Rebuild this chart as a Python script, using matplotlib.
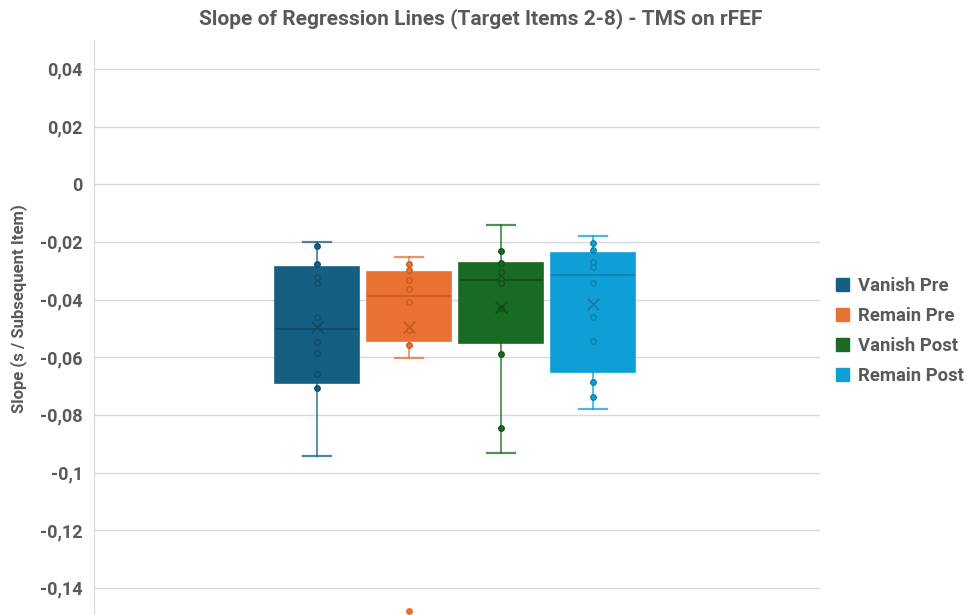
import numpy as np
import matplotlib.pyplot as plt
from matplotlib.patches import Patch

plt.rcParams['font.family'] = ['Roboto', 'DejaVu Sans']

# series
names = ['Vanish Pre', 'Remain Pre', 'Vanish Post', 'Remain Post']
colors = ['#156082', '#E97132', '#196B24', '#0F9ED5']
darks = ['#0f4a66', '#c55a22', '#114d19', '#0b7eab']

# box statistics per series
q1 = [-0.0691, -0.0544, -0.0552, -0.0652]
med = [-0.0503, -0.0388, -0.0334, -0.0316]
q3 = [-0.0287, -0.0305, -0.0273, -0.0237]
mean = [-0.0496, -0.0496, -0.0427, -0.0416]
whis_lo = [-0.0943, -0.0602, -0.0932, -0.0779]
whis_hi = [-0.0200, -0.0251, -0.0142, -0.0178]

# individual data points
pts_vanish_pre = [-0.0214, -0.0276, -0.0322, -0.0341, -0.0459, -0.0547,
                  -0.0586, -0.0658, -0.0707]
pts_remain_pre = [-0.0276, -0.0296, -0.0332, -0.0362, -0.0410, -0.0507,
                  -0.0557]
pts_vanish_post = [-0.0231, -0.0273, -0.0305, -0.0328, -0.0342, -0.0431,
                   -0.0589, -0.0845]
pts_remain_post = [-0.0203, -0.0228, -0.0271, -0.0288, -0.0344, -0.0459,
                   -0.0544, -0.0685, -0.0739]
points = [pts_vanish_pre, pts_remain_pre, pts_vanish_post, pts_remain_post]

# outliers
fliers = [[], [-0.1480], [], []]

yticks = [0.04, 0.02, 0, -0.02, -0.04, -0.06, -0.08, -0.1, -0.12, -0.14]

grey = '#595959'

fig = plt.figure(figsize=(9.67, 6.15), dpi=100)
ax = fig.add_axes([94 / 967, 0, 726 / 967, 575 / 615])

pos = np.arange(1, len(names) + 1)
stats = []
for i in range(len(names)):
    stats.append(dict(med=med[i], q1=q1[i], q3=q3[i], whislo=whis_lo[i],
                      whishi=whis_hi[i], mean=mean[i], fliers=[]))

for i, s in enumerate(stats):
    ax.bxp([s], positions=[pos[i]], widths=0.907, patch_artist=True,
           showmeans=False, showfliers=False,
           boxprops=dict(facecolor=colors[i], edgecolor=colors[i], linewidth=1.2),
           medianprops=dict(color=darks[i], linewidth=1.2),
           whiskerprops=dict(color=colors[i], linewidth=1.3, alpha=0.75),
           capprops=dict(color=colors[i], linewidth=1.6, alpha=0.75),
           capwidths=0.3, zorder=2)
    ax.scatter([pos[i]] * len(points[i]), points[i], s=16,
               facecolor=colors[i], edgecolor=darks[i], linewidth=0.9, zorder=3)
    if fliers[i]:
        ax.scatter([pos[i]] * len(fliers[i]), fliers[i], s=16,
                   color=colors[i], zorder=3)
    ax.scatter([pos[i]], [mean[i]], marker='x', s=70, color=darks[i],
               linewidth=1.2, zorder=4)

ax.set_xlim(-1.424, 6.467)
ax.set_ylim(-0.1494, 0.05)
ax.set_xticks([])
ax.set_yticks(yticks)
ax.set_yticklabels([('%g' % v).replace('.', ',') for v in yticks])
ax.tick_params(axis='y', length=0, pad=8, labelsize=13, labelcolor=grey)
for lab in ax.get_yticklabels():
    lab.set_fontweight('bold')
ax.grid(axis='y', color='#d9d9d9', linewidth=1)
ax.set_axisbelow(True)
for side in ['top', 'right', 'bottom']:
    ax.spines[side].set_visible(False)
ax.spines['left'].set_color('#d9d9d9')

ax.set_ylabel('Slope (s / Subsequent Item)', fontsize=12, fontweight='bold',
              color=grey)
ax.yaxis.set_label_coords(-0.092, 0.532)

fig.text(0.497, 0.970, 'Slope of Regression Lines (Target Items 2-8) - TMS on rFEF',
         ha='center', va='center', fontsize=15, fontweight='bold', color=grey)

handles = [Patch(facecolor=c, edgecolor=c) for c in colors]
leg = fig.legend(handles, names, loc='center left', bbox_to_anchor=(0.857, 0.462),
                 frameon=False, handlelength=0.7, handleheight=0.7,
                 handletextpad=0.5, labelspacing=0.66, borderaxespad=0,
                 prop=dict(size=13.3, weight='bold'))
for t in leg.get_texts():
    t.set_color(grey)

fig.savefig('out.png', dpi=100)
